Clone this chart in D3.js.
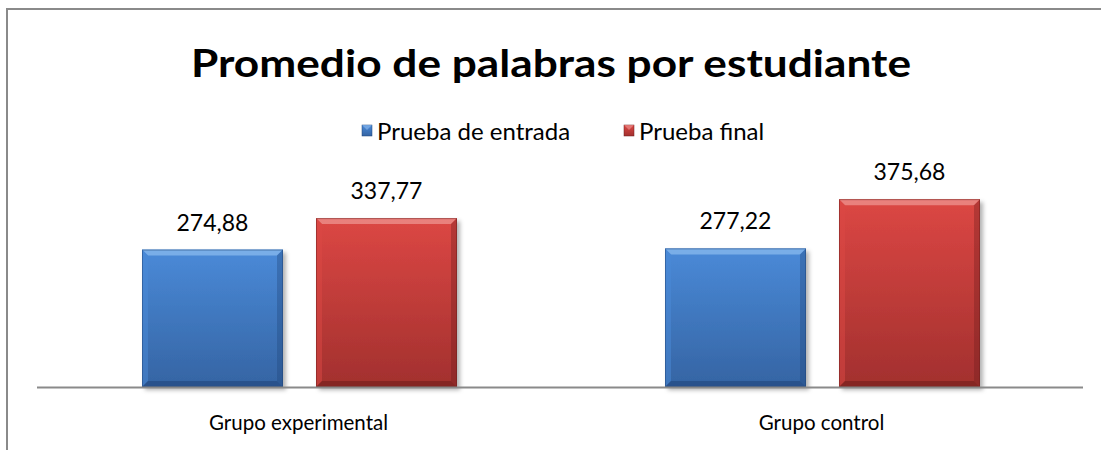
<!DOCTYPE html>
<html>
<head>
<meta charset="utf-8">
<script src="https://cdn.jsdelivr.net/npm/d3@7"></script>
<style>
  body { margin: 0; background: #fff; }
  svg { display: block; font-family: Lato, "Open Sans", sans-serif; }
</style>
</head>
<body>
<div id="chart"></div>
<script>
var categories = ["Grupo experimental", "Grupo control"];
var seriesNames = ["Prueba de entrada", "Prueba final"];
var entrada = [274.88, 277.22];
var final = [337.77, 375.68];
var valueLabels = [["274,88", "337,77"], ["277,22", "375,68"]];

var width = 1101, height = 450;
var margin = {top: 187, right: 18, bottom: 63, left: 37};
var colors = [
  {top: "#4a8ad8", bottom: "#3564a3", light: "#8fbdf0", dark: "#1f4478"},
  {top: "#dc4744", bottom: "#a2302e", light: "#f09a96", dark: "#6e1d1c"}
];

var svg = d3.select("#chart").append("svg")
  .attr("width", width).attr("height", height);

var defs = svg.append("defs");
colors.forEach(function(c, i) {
  var g = defs.append("linearGradient").attr("id", "grad" + i)
    .attr("x1", 0).attr("y1", 0).attr("x2", 0).attr("y2", 1);
  g.append("stop").attr("offset", "0%").attr("stop-color", c.top);
  g.append("stop").attr("offset", "100%").attr("stop-color", c.bottom);
});
var f = defs.append("filter").attr("id", "shadow")
  .attr("x", "-10%").attr("y", "-10%").attr("width", "130%").attr("height", "130%");
f.append("feDropShadow").attr("dx", 3).attr("dy", 3).attr("stdDeviation", 2)
  .attr("flood-color", "#000").attr("flood-opacity", 0.3);

// outer border (only top and left show)
svg.append("path")
  .attr("d", "M7,450 L7,9 L1101,9")
  .attr("fill", "none").attr("stroke", "#8a8a8a").attr("stroke-width", 2);

svg.append("text")
  .attr("x", 551).attr("y", 77)
  .attr("text-anchor", "middle")
  .attr("font-weight", "bold").attr("font-size", 38)
  .attr("textLength", 720).attr("lengthAdjust", "spacingAndGlyphs")
  .text("Promedio de palabras por estudiante");

var x0 = d3.scaleBand().domain(categories)
  .range([margin.left, width - margin.right]).paddingInner(0).paddingOuter(0);
var x1 = d3.scaleBand().domain(seriesNames)
  .range([105, x0.bandwidth() - 103]).paddingInner(33 / 174).paddingOuter(0);
var y = d3.scaleLinear().domain([0, 400])
  .range([height - margin.bottom, margin.top]);

// legend
var legX = [362, 624];
seriesNames.forEach(function(s, i) {
  var lg = svg.append("g").attr("transform", "translate(" + legX[i] + ",125)");
  lg.append("rect").attr("width", 10).attr("height", 11).attr("fill", "url(#grad" + i + ")")
    .attr("stroke", colors[i].dark).attr("stroke-width", 0.5);
  lg.append("path").attr("d", "M0,0L10,0L5,5Z").attr("fill", colors[i].light).attr("opacity", 0.6);
  lg.append("text").attr("x", 15).attr("y", 15).attr("font-size", 24).text(s);
});

var data = categories.map(function(c, i) {
  return {cat: c, vals: [entrada[i], final[i]]};
});

var groups = svg.selectAll(".grp").data(data).enter().append("g")
  .attr("transform", function(d) { return "translate(" + x0(d.cat) + ",0)"; });

var bars = groups.selectAll(".bar").data(function(d, gi) {
  return d.vals.map(function(v, si) { return {v: v, s: si, g: gi}; });
}).enter().append("g").attr("class", "bar");

var b = 6;
bars.each(function(d) {
  var g = d3.select(this);
  var x = x1(seriesNames[d.s]), w = x1.bandwidth();
  var yt = y(d.v), yb = y(0), h = yb - yt;
  var c = colors[d.s];
  g.append("rect").attr("x", x).attr("y", yt).attr("width", w).attr("height", h)
    .attr("fill", "url(#grad" + d.s + ")").attr("filter", "url(#shadow)");
  // bevel faces
  g.append("path").attr("d", "M" + x + "," + yt + "L" + (x + w) + "," + yt + "L" + (x + w - b) + "," + (yt + b) + "L" + (x + b) + "," + (yt + b) + "Z")
    .attr("fill", c.light).attr("opacity", 0.7);
  g.append("path").attr("d", "M" + x + "," + yt + "L" + (x + b) + "," + (yt + b) + "L" + (x + b) + "," + (yb - b) + "L" + x + "," + yb + "Z")
    .attr("fill", c.top).attr("opacity", 0.5);
  g.append("path").attr("d", "M" + (x + w) + "," + yt + "L" + (x + w - b) + "," + (yt + b) + "L" + (x + w - b) + "," + (yb - b) + "L" + (x + w) + "," + yb + "Z")
    .attr("fill", c.dark).attr("opacity", 0.35);
  g.append("path").attr("d", "M" + x + "," + yb + "L" + (x + b) + "," + (yb - b) + "L" + (x + w - b) + "," + (yb - b) + "L" + (x + w) + "," + yb + "Z")
    .attr("fill", c.dark).attr("opacity", 0.55);
  g.append("rect").attr("x", x + 0.5).attr("y", yt + 0.5).attr("width", w - 1).attr("height", h - 1)
    .attr("fill", "none").attr("stroke", c.dark).attr("stroke-opacity", 0.5).attr("stroke-width", 1);
  g.append("text").attr("x", x + w / 2).attr("y", yt - 19)
    .attr("text-anchor", "middle").attr("font-size", 23)
    .text(valueLabels[d.g][d.s]);
});

// axis line
svg.append("line")
  .attr("x1", margin.left).attr("x2", width - margin.right)
  .attr("y1", y(0) + 0.5).attr("y2", y(0) + 0.5)
  .attr("stroke", "#8a8a8a").attr("stroke-width", 2);

var xAxis = svg.append("g").attr("transform", "translate(0," + y(0) + ")")
  .call(d3.axisBottom(x0).tickSize(0).tickPadding(0));
xAxis.select(".domain").remove();
xAxis.selectAll("text").attr("font-family", "Lato, 'Open Sans', sans-serif")
  .attr("font-size", 20.5).attr("fill", "#000").attr("dy", 0).attr("y", 43);
</script>
</body>
</html>
